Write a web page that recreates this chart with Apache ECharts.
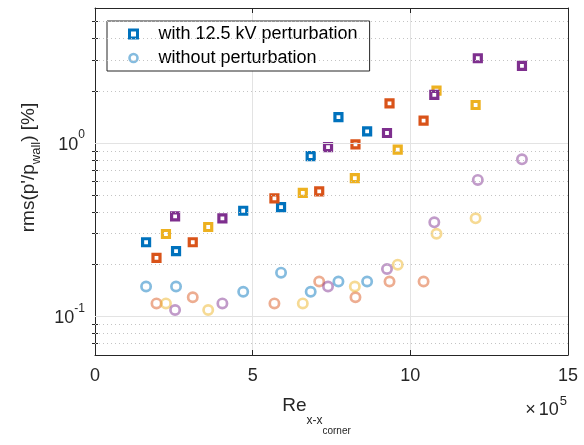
<!DOCTYPE html>
<html><head><meta charset="utf-8">
<script src="https://cdn.jsdelivr.net/npm/echarts@6/dist/echarts.min.js"></script>
<style>html,body{margin:0;padding:0;background:#fff}#c{width:584px;height:445px}</style>
</head><body><div id="c"></div>
<script>
// x positions (units of 1e5)
const xBlue   = [1.62, 2.57, 4.70, 5.90, 6.84, 7.72, 8.63];
const xOrange = [1.95, 3.10, 5.69, 7.11, 8.26, 9.34, 10.42];
const xYellow = [2.25, 3.59, 6.59, 8.24, 9.60, 10.83, 12.07];
const xPurple = [2.54, 4.04, 7.39, 9.26, 10.76, 12.14, 13.54];
// with 12.5 kV perturbation (squares)
const blueWith   = [0.268, 0.238, 0.407, 0.427, 0.841, 1.41, 1.168];
const orangeWith = [0.218, 0.268, 0.480, 0.526, 0.983, 1.694, 1.347];
const yellowWith = [0.299, 0.328, 0.516, 0.628, 0.916, 2.006, 1.656];
const purpleWith = [0.378, 0.368, 0.948, 1.142, 1.892, 3.08, 2.78];
// without perturbation (circles)
const blueWithout   = [0.149, 0.149, 0.139, 0.179, 0.139, 0.159, 0.159];
const orangeWithout = [0.119, 0.129, 0.119, 0.159, 0.129, 0.159, 0.159];
const yellowWithout = [0.119, 0.109, 0.119, 0.149, 0.199, 0.300, 0.368];
const purpleWithout = [0.109, 0.119, 0.149, 0.188, 0.349, 0.613, 0.805];
// axes
const xMin = 0, xMax = 15, xInterval = 5;
const yMin = 0.06, yMax = 6;
const yMajorTicks = [0.1, 1];
const yMinorTicks = [0.07, 0.08, 0.09, 0.2, 0.3, 0.4, 0.5, 0.6, 0.7, 0.8, 0.9, 2, 3, 4, 5];
const legendNames = ['with 12.5 kV perturbation', 'without perturbation'];

const FONT = '"Liberation Sans", Arial, Helvetica, sans-serif';
const AX = '#262626';
const cols = {
  blue: [0, 114, 189], orange: [217, 83, 25], yellow: [237, 177, 32], purple: [126, 47, 142]
};
const rgb = c => `rgb(${c[0]},${c[1]},${c[2]})`;
const rgba = (c, a) => `rgba(${c[0]},${c[1]},${c[2]},${a})`;

function pairs(xs, ys) { return xs.map((x, i) => [x, ys[i]]); }

const groups = [
  ['blue', xBlue, blueWith, blueWithout],
  ['orange', xOrange, orangeWith, orangeWithout],
  ['yellow', xYellow, yellowWith, yellowWithout],
  ['purple', xPurple, purpleWith, purpleWithout]
];

const series = [];
series.push({
  type: 'scatter', name: 'grid', data: [], z: 1, silent: true,
  xAxisIndex: 0, yAxisIndex: 0,
  markLine: {
    silent: true, symbol: ['none', 'none'], label: { show: false }, animation: false,
    data: [
      ...yMinorTicks.map(v => ({ yAxis: v, lineStyle: { type: [1, 3], color: '#c4c4c4', width: 1 } })),
      ...yMajorTicks.map(v => ({ yAxis: v, lineStyle: { type: 'solid', color: '#e3e3e3', width: 1 } }))
    ]
  }
});
groups.forEach(([key, xs, w, wo]) => {
  series.push({
    type: 'scatter', name: key === 'blue' ? legendNames[0] : key + ' with',
    data: pairs(xs, w), symbol: 'rect', symbolSize: 7, z: 3,
    itemStyle: { color: '#fff', borderColor: rgb(cols[key]), borderWidth: 3.2, opacity: 1 }
  });
  series.push({
    type: 'scatter', name: key === 'blue' ? legendNames[1] : key + ' without',
    data: pairs(xs, wo), symbol: 'circle', symbolSize: 9.3, z: 3,
    itemStyle: { color: 'rgba(255,255,255,0)', borderColor: rgba(cols[key], 0.6), borderWidth: 2.7 }
  });
});

const yLabelFmt = v => {
  const e = Math.round(Math.log10(v));
  return '{b|10}{s|' + e + '}';
};
const yLabelRich = {
  b: { fontSize: 18, lineHeight: 18, verticalAlign: 'bottom', color: AX, fontFamily: FONT },
  s: { fontSize: 12, lineHeight: 12, verticalAlign: 'bottom', padding: [0, 0, 13, 0], color: AX, fontFamily: FONT }
};

const baseY = {
  type: 'log', logBase: 10, min: yMin, max: yMax,
  splitLine: { show: false }, minorTick: { show: false }, minorSplitLine: { show: false }
};

const option = {
  animation: false,
  backgroundColor: '#fff',
  grid: { left: 95, right: 16, top: 8, bottom: 90, containLabel: false },
  legend: {
    data: [
      { name: legendNames[0], itemStyle: { borderWidth: 3 } },
      { name: legendNames[1], itemStyle: { borderWidth: 2.6, borderColor: 'rgba(0,114,189,0.6)' } }
    ],
    orient: 'vertical', left: 107, top: 21,
    padding: [3, 12, 3, 21],
    itemGap: 4, itemWidth: 8, itemHeight: 8,
    borderColor: AX, borderWidth: 1, backgroundColor: '#fff',
    textStyle: { fontSize: 18, lineHeight: 20, color: '#000', fontFamily: FONT, padding: [0, 0, 0, 16] },
    selectedMode: false
  },
  xAxis: [
    {
      type: 'value', min: xMin, max: xMax, interval: xInterval, position: 'bottom',
      axisLine: { show: true, onZero: false, lineStyle: { color: AX, width: 1 } },
      axisTick: { show: true, inside: true, length: 5, lineStyle: { color: AX } },
      axisLabel: { fontSize: 18, color: AX, margin: 12, fontFamily: FONT },
      splitLine: { show: true, lineStyle: { color: '#e3e3e3', width: 1 } },
      name: '{r|Re}{x|x-x}{c|corner}',
      nameLocation: 'middle', nameGap: 62, nameMoveOverlap: false,
      nameTextStyle: {
        verticalAlign: 'top',
        padding: [0, 30, 0, 0],
        rich: {
          r: { fontSize: 19, lineHeight: 19, verticalAlign: 'bottom', padding: [0, 0, 21, 0], color: AX, fontFamily: FONT },
          x: { fontSize: 12, lineHeight: 12, verticalAlign: 'bottom', padding: [0, 0, 9, 0], color: AX, fontFamily: FONT },
          c: { fontSize: 10, lineHeight: 10, verticalAlign: 'bottom', color: AX, fontFamily: FONT }
        }
      }
    },
    {
      type: 'value', min: xMin, max: xMax, interval: xInterval, position: 'top',
      axisLine: { show: true, onZero: false, lineStyle: { color: AX, width: 1 } },
      axisTick: { show: true, inside: true, length: 5, lineStyle: { color: AX } },
      axisLabel: { show: false }, splitLine: { show: false }
    }
  ],
  yAxis: [
    Object.assign({}, baseY, {
      position: 'left',
      axisLine: { show: true, onZero: false, lineStyle: { color: AX, width: 1 } },
      axisTick: { show: true, inside: true, length: 6, customValues: yMajorTicks, lineStyle: { color: AX } },
      axisLabel: { customValues: yMajorTicks, formatter: yLabelFmt, rich: yLabelRich, margin: 10, padding: [4, 0, 0, 0] },
      name: "{a|rms(p'/p}{s|wall}{a|) [%]}",
      nameLocation: 'middle', nameGap: 45,
      nameTextStyle: {
        padding: [0, 0, 0, 28],
        rich: {
          a: { fontSize: 19, lineHeight: 19, verticalAlign: 'bottom', padding: [0, 0, 5, 0], color: AX, fontFamily: FONT },
          s: { fontSize: 13, lineHeight: 13, verticalAlign: 'bottom', color: AX, fontFamily: FONT }
        }
      }
    }),
    Object.assign({}, baseY, {
      position: 'right',
      axisLine: { show: true, onZero: false, lineStyle: { color: AX, width: 1 } },
      axisTick: { show: true, inside: true, length: 6, customValues: yMajorTicks, lineStyle: { color: AX } },
      axisLabel: { show: false }
    }),
    Object.assign({}, baseY, {
      position: 'left',
      axisLine: { show: false },
      axisTick: { show: true, inside: true, length: 3, customValues: yMinorTicks, lineStyle: { color: AX } },
      axisLabel: { show: false }
    }),
    Object.assign({}, baseY, {
      position: 'right',
      axisLine: { show: false },
      axisTick: { show: true, inside: true, length: 3, customValues: yMinorTicks, lineStyle: { color: AX } },
      axisLabel: { show: false }
    })
  ],
  graphic: [{
    type: 'text', right: 17, top: 395,
    style: {
      text: '{t|×}{m|10}{s|5}',
      rich: {
        t: { fontSize: 18, lineHeight: 18, verticalAlign: 'bottom', padding: [0, 3, 0, 0], fill: AX, fontFamily: FONT },
        m: { fontSize: 18, lineHeight: 18, verticalAlign: 'bottom', fill: AX, fontFamily: FONT },
        s: { fontSize: 13, lineHeight: 13, verticalAlign: 'bottom', padding: [0, 0, 11, 1], fill: AX, fontFamily: FONT }
      }
    }
  }],
  series: series
};

const chart = echarts.init(document.getElementById('c'), null, { renderer: 'canvas' });
chart.setOption(option);
</script>
</body></html>
